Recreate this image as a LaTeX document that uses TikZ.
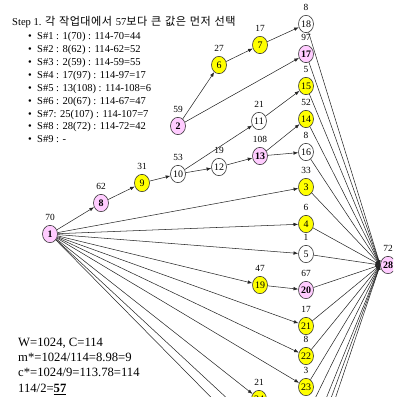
\documentclass[tikz,border=0pt]{standalone}
\usepackage{fontspec}
\setmainfont{Liberation Serif}
\newfontfamily\kr[LetterSpace=4,WordSpace=1.3]{Noto Sans CJK KR}
\usetikzlibrary{arrows.meta,shapes.geometric}

\definecolor{pinkjob}{RGB}{255,204,255}
\definecolor{yellowjob}{RGB}{255,255,0}

\begin{document}
\begin{tikzpicture}[x=0.03cm, y=-0.03cm,
  job/.style={ellipse, draw=black!80, line width=0.5pt, minimum width=0.45cm,
    minimum height=0.52cm, inner sep=0pt, font=\fontsize{8.5}{9}\selectfont},
  pk/.style={job, fill=pinkjob, font=\fontsize{8.5}{9}\selectfont\bfseries},
  yl/.style={job, fill=yellowjob},
  wt/.style={job, fill=white},
  every label/.style={font=\fontsize{8}{8}\selectfont, inner sep=0.3pt},
  label distance=3pt,
  arr/.style={-{Latex[length=4pt,width=3pt]}, line width=0.45pt, black!85},
  ln/.style={line width=0.45pt, black!85}]

% --- Frame ---
\useasboundingbox (0,0) rectangle (393,397);
\clip (0,0) rectangle (393,397);

% --- Text ---
\node[anchor=west, inner sep=0] (title) at (12,22)
  {\fontsize{9}{11}\selectfont Step 1. {\kr\fontsize{9.5}{11}\selectfont 각 작업대에서 }57{\kr\fontsize{9.5}{11}\selectfont 보다 큰 값은 먼저 선택}};

\node[anchor=north west, inner sep=0] (steps) at (28,30.5)
  {\fontsize{9}{11}\selectfont
   \begin{tabular}{@{}l@{\hspace{4.5pt}}l@{}}
   \textbullet & S\#1 : 1(70) : 114-70=44\\
   \textbullet & S\#2 : 8(62) : 114-62=52\\
   \textbullet & S\#3 : 2(59) : 114-59=55\\
   \textbullet & S\#4 : 17(97) : 114-97=17\\
   \textbullet & S\#5 : 13(108) : 114-108=6\\
   \textbullet & S\#6 : 20(67) : 114-67=47\\
   \textbullet & S\#7: 25(107) : 114-107=7\\
   \textbullet & S\#8 : 28(72) : 114-72=42\\
   \textbullet & S\#9 : -
   \end{tabular}};

\node[anchor=north west, inner sep=0] (calc) at (18,335.5)
  {\fontsize{10.8}{13}\selectfont
   \begin{tabular}{@{}l@{}}
   W=1024, C=114\\
   m*=1024/114=8.98=9\\
   c*=1024/9=113.78=114\\
   114/2=\underline{\textbf{57}}
   \end{tabular}};

% --- Jobs (weight on top) ---
\node[pk, label=70] (n1) at (50,234) {1};
\node[pk, label=62] (n8) at (101,203) {8};
\node[yl, label=31] (n9) at (142,183) {9};
\node[wt, label=53] (n10) at (178,174) {10};
\node[wt, label=19] (n12) at (219,167) {12};
\node[pk, label=108] (n13) at (260,156) {13};
\node[wt, label=21] (n11) at (259,121) {11};
\node[pk, label=59] (n2) at (178,126) {2};
\node[yl, label=27] (n6) at (219,65) {6};
\node[yl, label=17] (n7) at (260,45) {7};
\node[yl, label=47] (n19) at (260,285) {19};
\node[yl, label=21] (n24) at (259,399) {24};

\node[wt, label=8] (n18) at (306,24) {18};
\node[pk, label=97] (n17) at (306,54) {17};
\node[yl, label=5] (n15) at (306,86) {15};
\node[yl, label=52] (n14) at (306,119) {14};
\node[wt, label=8] (n16) at (306,152) {16};
\node[yl, label=33] (n3) at (306,187) {3};
\node[yl, label=6] (n4) at (306,224) {4};
\node[wt, label=1] (n5) at (306,254) {5};
\node[pk, label=67] (n20) at (306,290) {20};
\node[yl, label=17] (n21) at (306,326) {21};
\node[yl, label=8] (n22) at (306,356) {22};
\node[yl, label=3] (n23) at (306,387) {23};

\node[pk, label=72] (n28) at (388,265) {28};

% jobs below the frame
\coordinate (low1) at (259,428);
\coordinate (low2) at (259,446);
\coordinate (low3) at (306,417);
\coordinate (low4) at (306,448);
\coordinate (low5) at (300,482);
\coordinate (low6) at (296,515);

% --- Precedence ---
\path[arr] (n1) edge (n8) edge (n3) edge (n4) edge (n5) edge (n19)
  edge (n21) edge (n22) edge (n23) edge (n24);
\draw[ln] (n1) -- (low1);
\draw[ln] (n1) -- (low2);

\draw[arr] (n8) -- (n9);
\draw[arr] (n9) -- (n10);
\path[arr] (n10) edge (n11) edge (n12);
\draw[arr] (n12) -- (n13);
\path[arr] (n13) edge (n14) edge (n16);
\draw[arr] (n11) -- (n15);
\path[arr] (n2) edge (n6) edge (n17);
\draw[arr] (n6) -- (n7);
\draw[arr] (n7) -- (n18);
\draw[arr] (n19) -- (n20);

% all into 28
\path[arr] (n18) edge (n28.west) (n17) edge (n28.west) (n15) edge (n28.west)
  (n14) edge (n28.west) (n16) edge (n28.west) (n3) edge (n28.west)
  (n4) edge (n28.west) (n5) edge (n28.west) (n20) edge (n28.west)
  (n21) edge (n28.west) (n22) edge (n28.west) (n23) edge (n28.west)
  (low3) edge (n28.west) (low4) edge (n28.west) (low5) edge (n28.west)
  (low6) edge (n28.west);

\end{tikzpicture}
\end{document}
